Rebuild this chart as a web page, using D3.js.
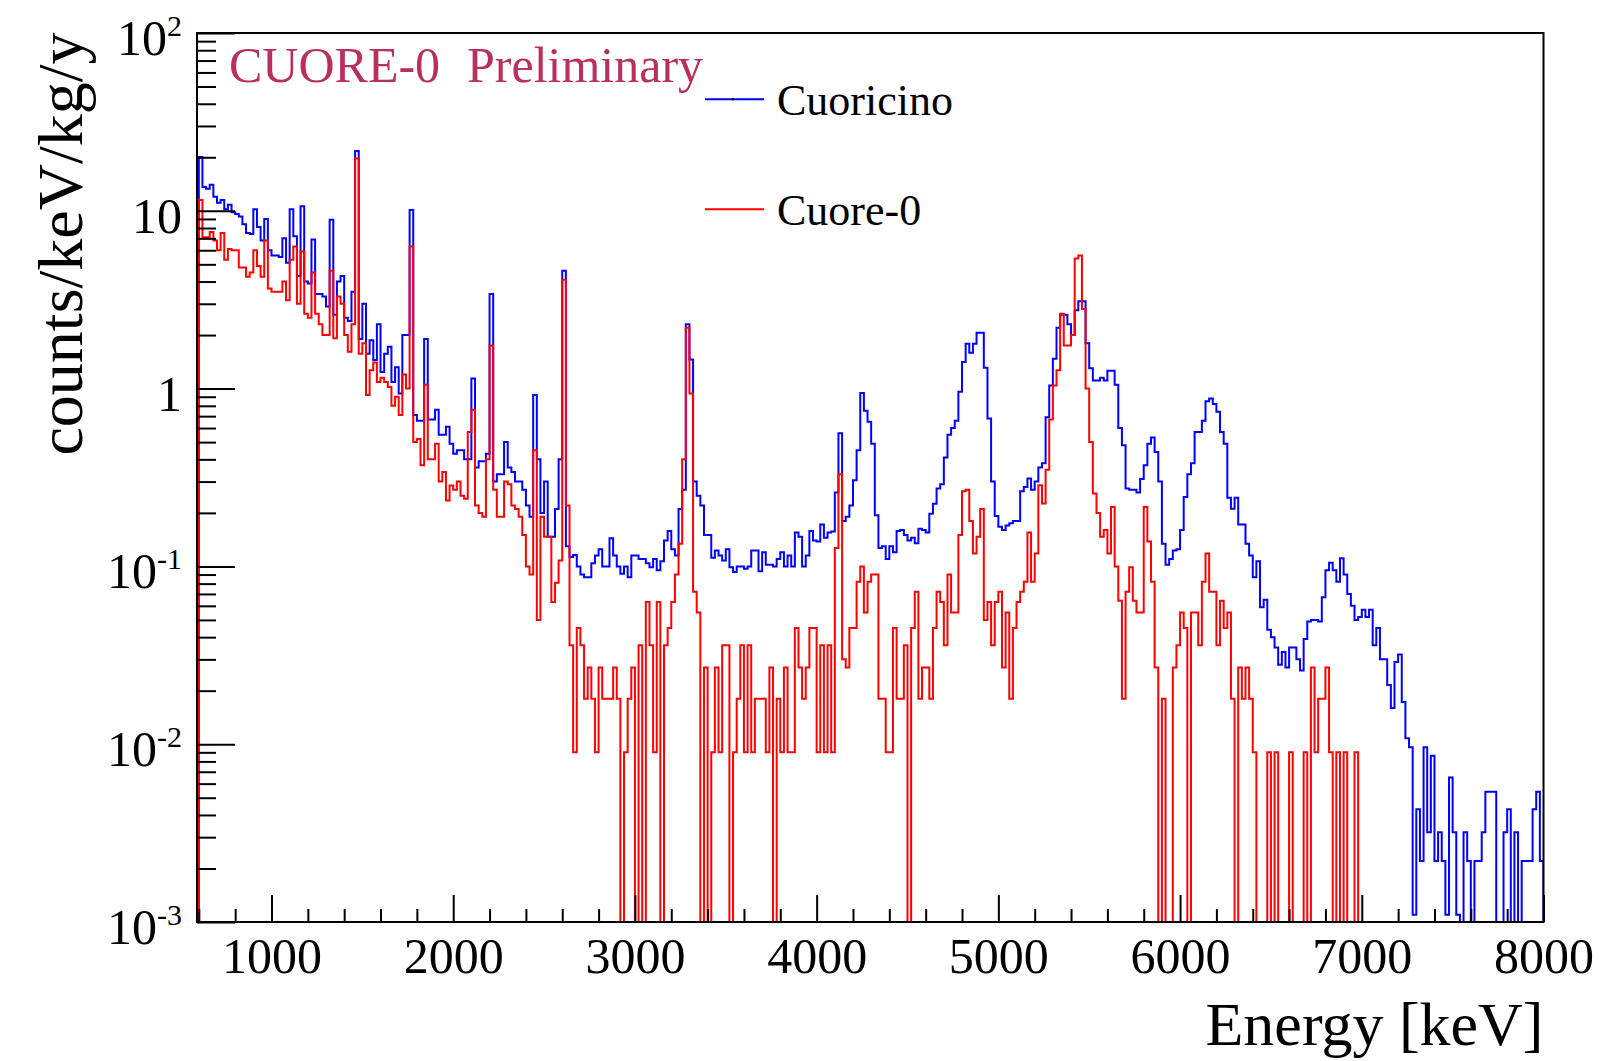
<!DOCTYPE html>
<html>
<head>
<meta charset="utf-8">
<script src="https://cdn.jsdelivr.net/npm/d3@7"></script>
<style>
  body { margin:0; background:#fff; }
  svg { display:block; font-family:"Liberation Serif","Times New Roman",serif; }
</style>
</head>
<body>
<div id="chart"></div>
<script>
// histogramme: bins de 20 keV a partir de 600 keV
const binStart = 600;
const binWidth = 20;

// Cuoricino (counts/keV/kg/y)
const cuoricino = [
  20.1, 13.6, 13.3, 14.0, 12.0, 11.1, 11.5, 10.2, 10.8, 9.8,
  9.6, 9.3, 8.4, 7.5, 7.4, 10.2, 8.1, 6.8, 9.0, 6.0,
  5.6, 5.6, 5.5, 7.0, 5.1, 10.2, 7.2, 4.3, 10.6, 4.0,
  3.9, 6.9, 3.4, 3.4, 3.3, 2.9, 8.9, 2.6, 4.0, 4.3,
  2.5, 2.4, 3.5, 21.7, 1.9, 3.0, 1.57, 1.87, 1.45, 2.3,
  1.24, 1.57, 1.72, 1.09, 1.32, 0.94, 2.0, 2.0, 10.1, 0.71,
  0.66, 0.66, 1.9, 0.67, 0.67, 0.76, 0.55, 0.55, 0.61, 0.49,
  0.43, 0.45, 0.45, 0.40, 0.40, 1.14, 0.36, 0.39, 0.39, 0.43,
  3.4, 0.30, 0.33, 0.33, 0.50, 0.36, 0.34, 0.30, 0.30, 0.27,
  0.22, 0.19, 0.92, 0.40, 0.20, 0.30, 0.147, 0.147, 0.21, 0.40,
  4.6, 0.13, 0.113, 0.116, 0.10, 0.09, 0.087, 0.087, 0.104, 0.115,
  0.125, 0.10, 0.10, 0.144, 0.115, 0.10, 0.091, 0.10, 0.087, 0.115,
  0.115, 0.11, 0.11, 0.104, 0.099, 0.11, 0.095, 0.107, 0.14, 0.158,
  0.125, 0.115, 0.21, 0.27, 2.3, 1.46, 0.3, 0.25, 0.22, 0.15,
  0.15, 0.112, 0.123, 0.115, 0.108, 0.125, 0.099, 0.093, 0.10, 0.10,
  0.097, 0.10, 0.123, 0.123, 0.094, 0.12, 0.102, 0.102, 0.10, 0.11,
  0.12, 0.10, 0.115, 0.10, 0.155, 0.147, 0.10, 0.115, 0.158, 0.14,
  0.138, 0.172, 0.145, 0.155, 0.157, 0.26, 0.56, 0.18, 0.19, 0.22,
  0.305, 0.45, 0.946, 0.75, 0.65, 0.49, 0.194, 0.127, 0.13, 0.11,
  0.13, 0.12, 0.158, 0.16, 0.15, 0.14, 0.145, 0.135, 0.163, 0.16,
  0.155, 0.198, 0.225, 0.274, 0.29, 0.41, 0.55, 0.6, 0.66, 0.96,
  1.41, 1.79, 1.59, 1.79, 2.06, 2.06, 1.31, 0.68, 0.3, 0.192,
  0.167, 0.16, 0.17, 0.175, 0.18, 0.18, 0.265, 0.28, 0.312, 0.27,
  0.3, 0.36, 0.38, 0.69, 1.04, 1.47, 2.2, 2.6, 2.6, 2.3,
  2.0, 2.76, 3.1, 3.1, 1.8, 1.3, 1.11, 1.11, 1.15, 1.11,
  1.26, 1.26, 1.05, 0.6, 0.48, 0.274, 0.27, 0.27, 0.26, 0.31,
  0.37, 0.49, 0.53, 0.44, 0.3, 0.134, 0.102, 0.11, 0.123, 0.125,
  0.16, 0.246, 0.33, 0.38, 0.57, 0.57, 0.66, 0.85, 0.88, 0.82,
  0.74, 0.57, 0.49, 0.243, 0.211, 0.243, 0.172, 0.172, 0.134, 0.115,
  0.087, 0.107, 0.059, 0.065, 0.044, 0.040, 0.035, 0.028, 0.033, 0.027,
  0.035, 0.035, 0.030, 0.026, 0.039, 0.049, 0.050, 0.050, 0.049, 0.067,
  0.095, 0.105, 0.095, 0.082, 0.111, 0.09, 0.07, 0.06, 0.05, 0.052,
  0.057, 0.052, 0.057, 0.036, 0.045, 0.03, 0.03, 0.0215, 0.016, 0.029,
  0.032, 0.0173, 0.0108, 0.0096, 0.0011, 0.0043, 0.0022, 0.0096, 0.0032, 0.0086,
  0.0022, 0.0032, 0.0022, 0.0011, 0.0065, 0.0032, 0.0011, 0, 0.0032, 0.0022,
  0, 0.0022, 0.0022, 0.0032, 0.0054, 0.0054, 0.0054, 0, 0, 0.0032,
  0.0043, 0, 0.0032, 0, 0.0022, 0.0022, 0.0022, 0.0043, 0.0054, 0.0022
];

// Cuore-0 (counts/keV/kg/y)
const cuore0 = [
  11.5, 7.1, 7.1, 7.6, 6.8, 6.0, 7.5, 5.3, 6.1, 6.0,
  6.0, 4.8, 4.8, 4.25, 4.5, 6.0, 4.9, 4.25, 6.8, 3.66,
  3.5, 3.5, 3.5, 4.0, 3.14, 5.3, 6.3, 3.0, 5.9, 2.64,
  2.5, 4.5, 2.64, 2.3, 2.0, 2.0, 4.6, 1.92, 3.3, 3.0,
  2.0, 1.61, 2.3, 19.7, 1.57, 1.8, 0.92, 1.27, 1.4, 1.09,
  1.15, 1.09, 1.02, 0.8, 0.90, 0.71, 1.2, 1.0, 6.3, 0.50,
  0.52, 0.37, 1.05, 0.40, 0.40, 0.49, 0.30, 0.34, 0.235, 0.285,
  0.27, 0.30, 0.25, 0.24, 0.57, 0.76, 0.22, 0.20, 0.19, 0.40,
  1.75, 0.27, 0.19, 0.19, 0.30, 0.29, 0.22, 0.21, 0.19, 0.15,
  0.10, 0.09, 0.45, 0.05, 0.19, 0.147, 0.147, 0.063, 0.081, 0.108,
  4.1, 0.22, 0.036, 0.009, 0.045, 0.036, 0.018, 0.027, 0.018, 0.009,
  0.027, 0.018, 0.018, 0.018, 0.027, 0.018, 0, 0.009, 0.018, 0.027,
  0, 0.036, 0, 0.063, 0.036, 0.009, 0.063, 0, 0.036, 0.045,
  0.063, 0.09, 0.134, 0.40, 2.2, 0.94, 0.072, 0.055, 0, 0.027,
  0, 0.009, 0.027, 0.009, 0.036, 0.036, 0, 0.009, 0.018, 0.036,
  0.009, 0.036, 0.009, 0.018, 0.018, 0.018, 0.009, 0.027, 0, 0.018,
  0.009, 0.027, 0.009, 0.009, 0.045, 0.027, 0.018, 0.027, 0.045, 0.045,
  0.009, 0.036, 0.009, 0.036, 0.009, 0.127, 0.33, 0.03, 0.027, 0.045,
  0.045, 0.082, 0.10, 0.055, 0.082, 0.09, 0.09, 0.018, 0.018, 0.009,
  0.009, 0.045, 0.018, 0.018, 0.036, 0, 0.045, 0.072, 0.018, 0.027,
  0.027, 0.018, 0.045, 0.072, 0.063, 0.036, 0.09, 0.055, 0.055, 0.15,
  0.265, 0.27, 0.18, 0.118, 0.147, 0.21, 0.05, 0.063, 0.036, 0.063,
  0.072, 0.027, 0.055, 0.018, 0.045, 0.063, 0.072, 0.082, 0.155, 0.082,
  0.118, 0.286, 0.226, 0.35, 0.67, 1.04, 1.27, 2.64, 1.75, 1.75,
  2.0, 5.4, 5.6, 2.8, 1.0, 0.5, 0.257, 0.2, 0.147, 0.16,
  0.118, 0.216, 0.10, 0.064, 0.018, 0.072, 0.099, 0.064, 0.055, 0.055,
  0.216, 0.138, 0.082, 0.027, 0, 0.018, 0, 0, 0.027, 0.036,
  0.055, 0.045, 0, 0.055, 0.055, 0.036, 0.082, 0.118, 0.072, 0.072,
  0.036, 0.064, 0.045, 0.055, 0.018, 0, 0.027, 0.018, 0.027, 0.018,
  0.009, 0, 0, 0, 0.009, 0, 0.009, 0, 0, 0,
  0.009, 0, 0, 0, 0.009, 0, 0.027, 0.009, 0.018, 0.018,
  0.027, 0.009, 0, 0.009, 0, 0.009, 0, 0, 0.009, 0,
  0, 0, 0, 0, 0, 0, 0, 0, 0, 0,
  0, 0, 0, 0, 0, 0, 0, 0, 0, 0,
  0, 0, 0, 0, 0, 0, 0, 0, 0, 0,
  0, 0, 0, 0, 0, 0, 0, 0, 0, 0,
  0, 0, 0, 0, 0, 0, 0, 0, 0, 0
];

const xTicks = [1000, 2000, 3000, 4000, 5000, 6000, 7000, 8000];
const yTicks = [0.001, 0.01, 0.1, 1, 10, 100];
const yTickBase = ["10", "10", "10", "1", "10", "10"];
const yTickExp = ["-3", "-2", "-1", "", "", "2"];
const seriesNames = ["Cuoricino", "Cuore-0"];

const W = 1604, H = 1061;
const fL = 197, fR = 1543.5, fT = 33, fB = 922; // moldura do grafico

const svg = d3.select('#chart').append('svg')
  .attr('width', W).attr('height', H);

const x = d3.scaleLinear().domain([590, 8000]).range([fL, fR]);
const y = d3.scaleLog().domain([0.001, 100]).range([fB, fT]);

svg.append('clipPath').attr('id', 'clip')
  .append('rect').attr('x', fL).attr('y', fT)
  .attr('width', fR - fL).attr('height', fB - fT);

// contorno do histograma em degraus
function histPath(vals) {
  const piso = 0.001;
  const edges = d3.range(vals.length + 1).map(i => binStart + i * binWidth);
  const pts = [[edges[0], piso]];
  vals.forEach((v, i) => pts.push([edges[i], Math.max(v, piso)]));
  pts.push([edges[vals.length], Math.max(vals[vals.length - 1], piso)]);
  pts.push([edges[vals.length], piso]);
  return d3.line().x(d => x(d[0])).y(d => y(d[1])).curve(d3.curveStepAfter)(pts);
}

const plot = svg.append('g').attr('clip-path', 'url(#clip)');
plot.append('path').attr('d', histPath(cuoricino))
  .attr('fill', 'none').attr('stroke', '#0000ff').attr('stroke-width', 2);
plot.append('path').attr('d', histPath(cuore0))
  .attr('fill', 'none').attr('stroke', '#ff0000').attr('stroke-width', 2);

// eixo x: ticks pra dentro
const xMinor = d3.range(600, 8001, 200).filter(v => v % 1000 !== 0);
svg.append('g').attr('transform', `translate(0,${fB})`)
  .call(d3.axisBottom(x).tickValues(xMinor).tickSize(-13).tickFormat(''))
  .call(g => g.select('.domain').remove());
const gx = svg.append('g').attr('transform', `translate(0,${fB})`)
  .call(d3.axisBottom(x).tickValues(xTicks).tickSize(-27).tickPadding(15).tickFormat(d3.format('d')));
gx.select('.domain').remove();
gx.selectAll('text').attr('font-family', '"Liberation Serif","Times New Roman",serif')
  .attr('font-size', 50).attr('fill', '#000');
svg.selectAll('.tick line').attr('stroke', '#000').attr('stroke-width', 2);

// eixo y log
const yMinor = [];
d3.range(-3, 2).forEach(d => { for (let m = 2; m <= 9; m++) yMinor.push(m * Math.pow(10, d)); });
svg.append('g').attr('transform', `translate(${fL},0)`)
  .call(d3.axisLeft(y).tickValues(yMinor).tickSize(-19).tickFormat(''))
  .call(g => g.select('.domain').remove())
  .selectAll('line').attr('stroke', '#000').attr('stroke-width', 2);
svg.append('g').attr('transform', `translate(${fL},0)`)
  .call(d3.axisLeft(y).tickValues(yTicks).tickSize(-38).tickFormat(''))
  .call(g => g.select('.domain').remove())
  .selectAll('line').attr('stroke', '#000').attr('stroke-width', 2);

const yl = svg.append('g').selectAll('text').data(yTicks).join('text')
  .attr('x', 182).attr('y', d => y(d) + 22)
  .attr('text-anchor', 'end').attr('font-size', 50).attr('fill', '#000');
yl.append('tspan').text((d, i) => yTickBase[i]);
yl.append('tspan').attr('font-size', 30).attr('dy', -19).text((d, i) => yTickExp[i]);

// moldura
svg.append('rect').attr('x', fL).attr('y', fT)
  .attr('width', fR - fL).attr('height', fB - fT)
  .attr('fill', 'none').attr('stroke', '#000').attr('stroke-width', 2);

// titulos dos eixos
svg.append('text').attr('x', fR).attr('y', 1045)
  .attr('text-anchor', 'end').attr('font-size', 62).text('Energy [keV]');
svg.append('text').attr('transform', 'translate(82,244) rotate(-90)')
  .attr('text-anchor', 'middle').attr('font-size', 64).text('counts/keV/kg/y');

// rotulo preliminar
svg.append('text').attr('x', 229).attr('y', 81.5).attr('font-size', 50)
  .attr('fill', '#b83060').text('CUORE-0');
svg.append('text').attr('x', 467).attr('y', 81.5).attr('font-size', 50)
  .attr('fill', '#b83060').text('Preliminary');

// legenda
const legCores = ['#0000ff', '#ff0000'];
const legY = [99.3, 209.3];
const leg = svg.append('g');
seriesNames.forEach((nome, i) => {
  leg.append('line').attr('x1', 705).attr('x2', 764)
    .attr('y1', legY[i]).attr('y2', legY[i])
    .attr('stroke', legCores[i]).attr('stroke-width', 2);
  leg.append('text').attr('x', 777).attr('y', legY[i] + 16)
    .attr('font-size', 44).attr('fill', '#000').text(nome);
});
leg.append('rect').attr('x', 732).attr('y', legY[0] - 1).attr('width', 2).attr('height', 2).attr('fill', '#000');
</script>
</body>
</html>
